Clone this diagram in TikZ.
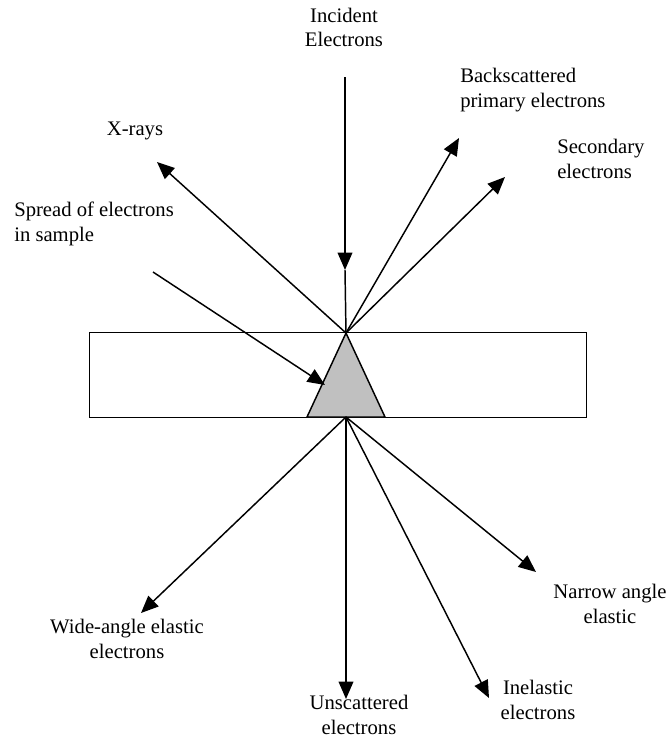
\documentclass[tikz,border=0pt]{standalone}
\usepackage{fontspec}
\setmainfont{Liberation Serif}
\usetikzlibrary{arrows.meta}
\definecolor{spreadgray}{RGB}{192,192,192}
\tikzset{
  lbl/.style={inner sep=0pt, align=center, font=\fontsize{15.5pt}{18.6pt}\selectfont},
  lbll/.style={lbl, align=left, anchor=west},
  ray/.style={line width=1.1pt, -{Triangle[length=13pt,width=11pt]}},
  plain/.style={line width=1.1pt},
}
\begin{document}
\begin{tikzpicture}[x=0.75pt,y=-0.75pt]
\useasboundingbox (0,0) rectangle (670,740);
% sample
\node[draw, line width=1.1pt, minimum width=497*0.75pt, minimum height=85*0.75pt, inner sep=0pt, anchor=north west] (sample) at (89,332) {};
\coordinate (apex) at (346,333);
\coordinate (base) at (346,417);
\coordinate (bl) at (307,417);
\coordinate (br) at (385,417);
% labels
\node[lbl] (inc) at (344,27.5) {Incident\\Electrons};
\node[lbll] (bs) at (460,90) {Backscattered\\primary electrons};
\node[lbll] (sec) at (557,159) {Secondary\\electrons};
\node[lbl] (xr) at (135,131) {X-rays};
\node[lbll] (spr) at (14,224) {Spread of electrons\\in sample};
\node[lbl] (wide) at (127,639) {Wide-angle elastic\\electrons};
\node[lbl] (uns) at (359,715) {Unscattered\\electrons};
\node[lbl] (inel) at (538,700) {Inelastic\\electrons};
\node[lbl] (narrow) at (610,604) {Narrow angle\\elastic};
% arrow end points
\coordinate (inctop) at (345,77);
\coordinate (inctip) at (345,270);
\coordinate (xrtip) at (157,162);
\coordinate (bstip) at (459,138);
\coordinate (sectip) at (505,177);
\coordinate (sprstart) at (153,272);
\coordinate (sprtip) at (325,385);
\coordinate (widetip) at (141,613);
\coordinate (unstip) at (346,699);
\coordinate (ineltip) at (489,698);
\coordinate (nartip) at (536,572);
% spread triangle
\fill[spreadgray] (apex) -- (bl) -- (br) -- cycle;
\draw[plain, line join=miter] (apex) -- (bl) -- (br) -- cycle;
% incident
\draw[ray] (inctop) -- (inctip);
\draw[plain] (inctip) -- (apex);
% upward emissions
\draw[ray] (apex) -- (xrtip);
\draw[ray] (apex) -- (bstip);
\draw[ray] (apex) -- (sectip);
% spread pointer
\draw[ray] (sprstart) -- (sprtip);
% transmitted
\draw[ray] (base) -- (widetip);
\draw[ray] (base) -- (unstip);
\draw[ray] (base) -- (ineltip);
\draw[ray] (base) -- (nartip);
\end{tikzpicture}
\end{document}
